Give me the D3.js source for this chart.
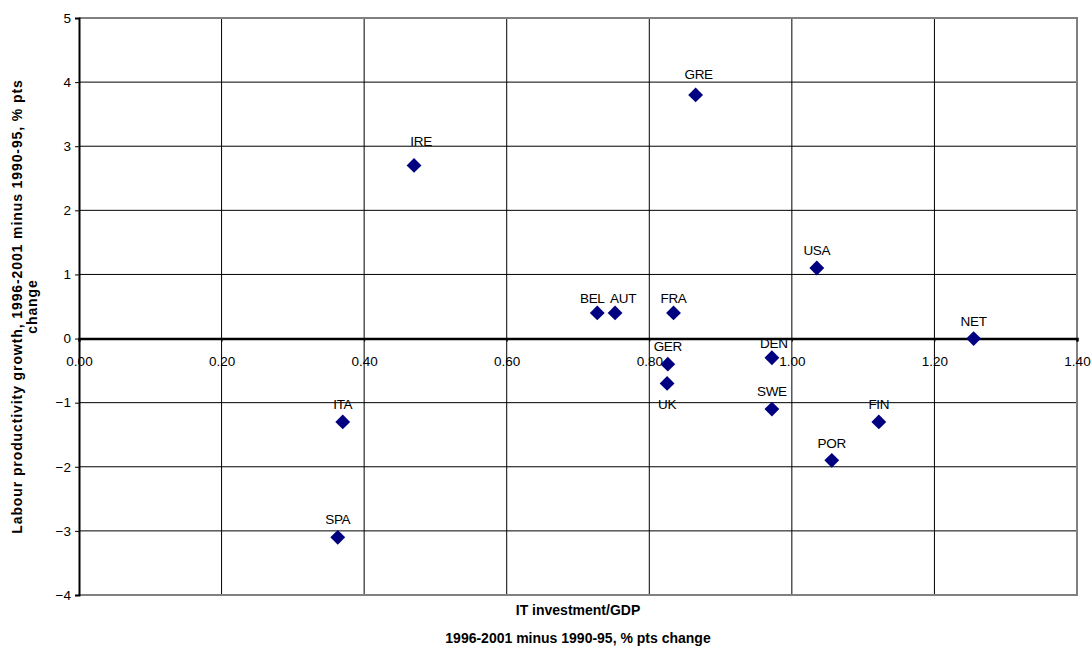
<!DOCTYPE html>
<head>
    <meta charset="utf-8">
    <script src="https://d3js.org/d3.v7.min.js"></script>
</head>
<body style="margin: 0; background: white">
    <div id="my_dataviz"></div>
    <script>
        // countries and values
        var countries = ["IRE", "GRE", "USA", "NET", "BEL", "AUT", "FRA", "GER", "UK", "DEN", "SWE", "FIN", "POR", "ITA", "SPA"];
        var itInvestment = [0.47, 0.865, 1.035, 1.255, 0.727, 0.752, 0.834, 0.826, 0.825, 0.972, 0.972, 1.122, 1.056, 0.37, 0.363];
        var productivity = [2.7, 3.8, 1.1, 0.0, 0.4, 0.4, 0.4, -0.4, -0.7, -0.3, -1.1, -1.3, -1.9, -1.3, -3.1];
        var xTicks = [0, 0.2, 0.4, 0.6, 0.8, 1.0, 1.2, 1.4];
        var yTicks = [-4, -3, -2, -1, 0, 1, 2, 3, 4, 5];

        // label placement tweaks (dx, dy) like the hand-moved labels in the original
        var labelNudge = {
            IRE: [7, -6], GRE: [3, -3], BEL: [-5, 3], AUT: [8, 3], FRA: [0, 3],
            DEN: [2, 3], UK: [0, 39], POR: [0, 1]
        };

        var data = countries.map(function (c, i) {
            return { name: c, x: itInvestment[i], y: productivity[i] };
        });

        var margin = { top: 18, right: 15, bottom: 53, left: 79 },
            width = 1092 - margin.left - margin.right,
            height = 648 - margin.top - margin.bottom;

        var svg = d3.select("#my_dataviz")
            .append("svg")
            .attr("width", 1092)
            .attr("height", 648)
            .style("font-family", "'Liberation Sans', Arial, sans-serif")
            .append("g")
            .attr("transform", "translate(" + margin.left + "," + margin.top + ")");

        var x = d3.scaleLinear().domain([0, 1.4]).range([0, width]);
        var y = d3.scaleLinear().domain([-4, 5]).range([height, 0]);

        // grid
        svg.selectAll(".vgrid")
            .data(xTicks.slice(1, -1))
            .enter().append("line")
            .attr("x1", function (d) { return x(d) })
            .attr("x2", function (d) { return x(d) })
            .attr("y1", 0).attr("y2", height)
            .attr("stroke", "#000").attr("stroke-width", 1);

        svg.selectAll(".hgrid")
            .data(yTicks.slice(1, -1))
            .enter().append("line")
            .attr("x1", 0).attr("x2", width)
            .attr("y1", function (d) { return y(d) })
            .attr("y2", function (d) { return y(d) })
            .attr("stroke", "#000").attr("stroke-width", 1);

        // grey frame top/right/bottom
        svg.append("path")
            .attr("d", "M0," + y(5) + "H" + width + "V" + height + "H0")
            .attr("fill", "none")
            .attr("stroke", "#808080")
            .attr("stroke-width", 2);

        // y axis
        var yAxis = svg.append("g")
            .call(d3.axisLeft(y).tickValues(yTicks).tickSize(4).tickPadding(4));
        yAxis.select(".domain").attr("stroke-width", 2);
        yAxis.selectAll("text").style("font-size", "13.5px").style("fill", "#000");

        // x axis through zero
        var xAxis = svg.append("g")
            .attr("transform", "translate(0," + y(0) + ")")
            .call(d3.axisBottom(x).tickValues(xTicks).tickFormat(d3.format(".2f")).tickSize(3).tickPadding(15));
        xAxis.select(".domain").attr("stroke-width", 2.5);
        xAxis.selectAll("text").style("font-size", "13.5px").style("fill", "#000");

        // points
        svg.selectAll(".pt")
            .data(data)
            .enter().append("path")
            .attr("d", d3.symbol().type(d3.symbolSquare).size(110))
            .attr("transform", function (d) {
                return "translate(" + x(d.x) + "," + y(d.y) + ") rotate(45)";
            })
            .attr("fill", "#000080");

        svg.selectAll(".lbl")
            .data(data)
            .enter().append("text")
            .attr("x", function (d) {
                var n = labelNudge[d.name] || [0, 0];
                return x(d.x) + n[0];
            })
            .attr("y", function (d) {
                var n = labelNudge[d.name] || [0, 0];
                return y(d.y) - 13 + n[1];
            })
            .attr("text-anchor", "middle")
            .style("font-size", "13.5px")
            .style("letter-spacing", "-0.3px")
            .text(function (d) { return d.name });

        // axis titles
        svg.append("text")
            .attr("x", width / 2)
            .attr("y", height + 20)
            .attr("text-anchor", "middle")
            .style("font-size", "14px")
            .style("font-weight", "bold")
            .text("IT investment/GDP");
        svg.append("text")
            .attr("x", width / 2)
            .attr("y", height + 48)
            .attr("text-anchor", "middle")
            .style("font-size", "14px")
            .style("font-weight", "bold")
            .text("1996-2001 minus 1990-95, % pts change");

        var yTitle = svg.append("text")
            .attr("transform", "translate(" + (-57) + "," + (height / 2) + ") rotate(-90)")
            .attr("text-anchor", "middle")
            .style("font-size", "14px")
            .style("font-weight", "bold")
            .style("letter-spacing", "0.9px");
        yTitle.append("tspan").attr("x", 0).attr("y", 0)
            .text("Labour productivity growth, 1996-2001 minus 1990-95, % pts");
        yTitle.append("tspan").attr("x", 0).attr("y", 15).text("change");
    </script>
</body>
</html>
